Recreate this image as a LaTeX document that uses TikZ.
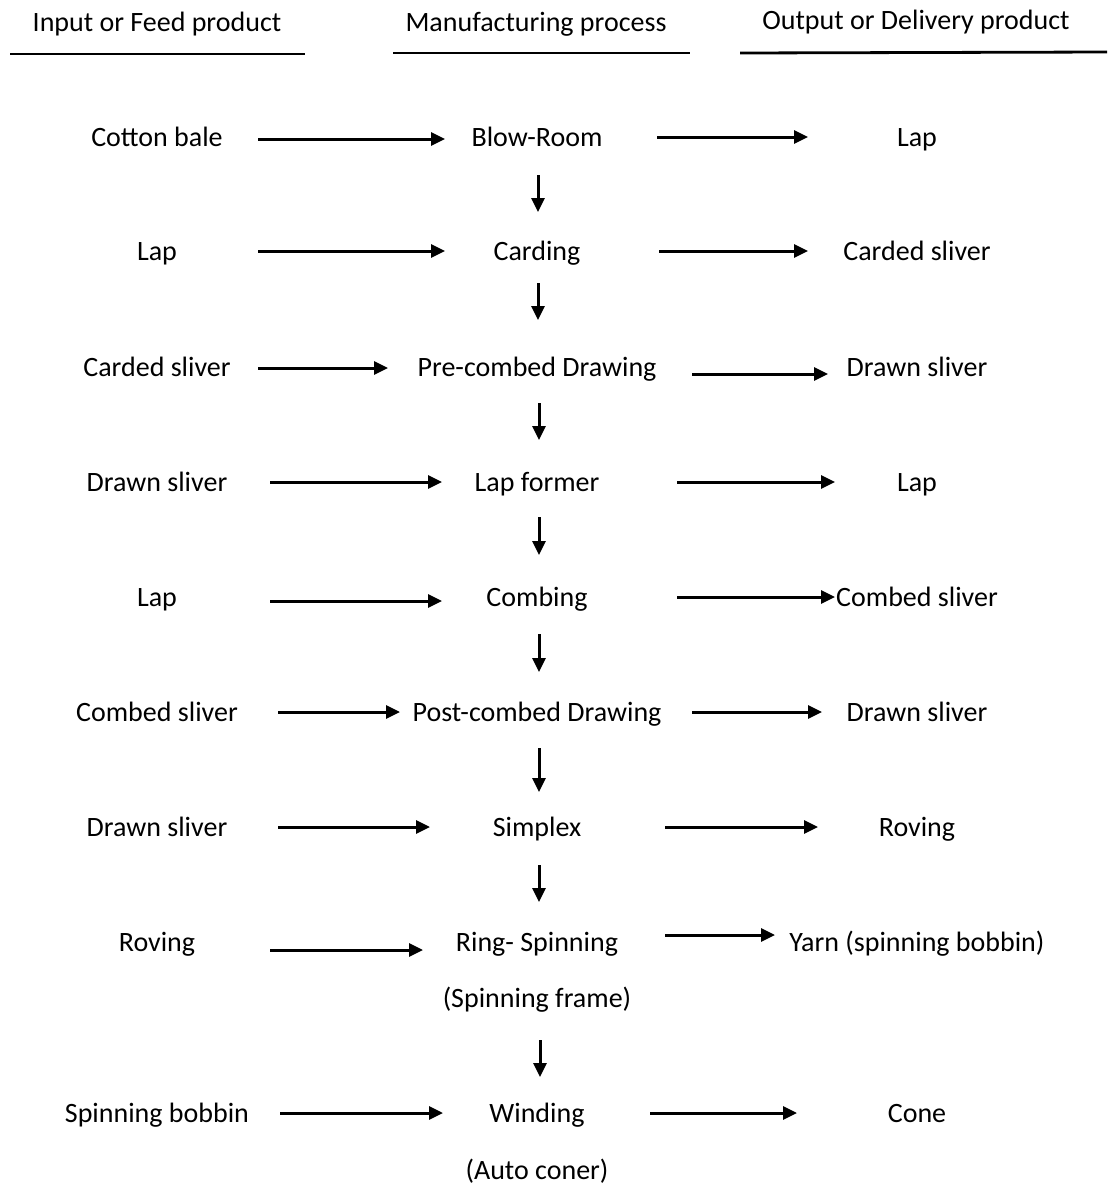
\documentclass[tikz,border=0pt]{standalone}
\usepackage{fontspec}
\setmainfont{Carlito}
\usetikzlibrary{arrows.meta}
\begin{document}
\begin{tikzpicture}[x=1pt,y=-1pt,
  lbl/.style={font=\fontsize{28}{32}\selectfont, inner sep=0pt, text height=18pt, text depth=0pt},
  arr/.style={line width=3pt, -{Triangle[length=14pt,width=13pt]}},
  rule/.style={line width=2.8pt}]
\useasboundingbox (0,0) rectangle (1115,1187);
% headers
\node[lbl] (h1) at (157,22) {Input or Feed product};
\node[lbl] (h2) at (536,22) {Manufacturing process};
\node[lbl] (h3) at (916,20) {Output or Delivery product};
\coordinate (u1a) at (10,54); \coordinate (u1b) at (305,54);
\coordinate (u2a) at (393,53); \coordinate (u2b) at (690,53);
\coordinate (u3a) at (740,53); \coordinate (u3b) at (1107,52);
\draw[rule] (u1a) -- (u1b);
\draw[rule] (u2a) -- (u2b);
\draw[rule] (u3a) -- (u3b);
% inputs
\node[lbl] (i1) at (157,137) {Cotton bale};
\node[lbl] (i2) at (157,251) {Lap};
\node[lbl] (i3) at (157,367) {Carded sliver};
\node[lbl] (i4) at (157,482) {Drawn sliver};
\node[lbl] (i5) at (157,597) {Lap};
\node[lbl] (i6) at (157,712) {Combed sliver};
\node[lbl] (i7) at (157,827) {Drawn sliver};
\node[lbl] (i8) at (157,942) {Roving};
\node[lbl] (i9) at (157,1113) {Spinning bobbin};
% processes
\node[lbl] (p1) at (537,137) {Blow-Room};
\node[lbl] (p2) at (537,251) {Carding};
\node[lbl] (p3) at (537,367) {Pre-combed Drawing};
\node[lbl] (p4) at (537,482) {Lap former};
\node[lbl] (p5) at (537,597) {Combing};
\node[lbl] (p6) at (537,712) {Post-combed Drawing};
\node[lbl] (p7) at (537,827) {Simplex};
\node[lbl] (p8) at (537,942) {Ring- Spinning};
\node[lbl] (p8b) at (537,998) {(Spinning frame)};
\node[lbl] (p9) at (537,1113) {Winding};
\node[lbl] (p9b) at (537,1170) {(Auto coner)};
% outputs
\node[lbl] (o1) at (917,137) {Lap};
\node[lbl] (o2) at (917,251) {Carded sliver};
\node[lbl] (o3) at (917,367) {Drawn sliver};
\node[lbl] (o4) at (917,482) {Lap};
\node[lbl] (o5) at (917,597) {Combed sliver};
\node[lbl] (o6) at (917,712) {Drawn sliver};
\node[lbl] (o7) at (917,827) {Roving};
\node[lbl] (o8) at (917,942) {Yarn (spinning bobbin)};
\node[lbl] (o9) at (917,1113) {Cone};
% input arrows
\draw[arr, shorten <=101pt, shorten >=92pt] ([yshift=-2pt]i1.center) -- ([yshift=-2pt]p1.center);
\draw[arr, shorten <=101pt, shorten >=92pt] (i2.center) -- (p2.center);
\draw[arr, shorten <=101pt, shorten >=149pt] ([yshift=-1pt]i3.center) -- ([yshift=-1pt]p3.center);
\draw[arr, shorten <=113pt, shorten >=95pt] (i4.center) -- (p4.center);
\draw[arr, shorten <=113pt, shorten >=95pt] ([yshift=-4pt]i5.center) -- ([yshift=-4pt]p5.center);
\draw[arr, shorten <=121pt, shorten >=137pt] (i6.center) -- (p6.center);
\draw[arr, shorten <=121pt, shorten >=107pt] (i7.center) -- (p7.center);
\draw[arr, shorten <=113pt, shorten >=114pt] ([yshift=-8pt]i8.center) -- ([yshift=-8pt]p8.center);
\draw[arr, shorten <=123pt, shorten >=94pt] (i9.center) -- (p9.center);
% output arrows
\draw[arr, shorten <=120pt, shorten >=109pt] (p1.center) -- (o1.center);
\draw[arr, shorten <=122pt, shorten >=109pt] (p2.center) -- (o2.center);
\draw[arr, shorten <=155pt, shorten >=89pt] ([yshift=-7pt]p3.center) -- ([yshift=-7pt]o3.center);
\draw[arr, shorten <=140pt, shorten >=82pt] (p4.center) -- (o4.center);
\draw[arr, shorten <=140pt, shorten >=82pt] (p5.center) -- (o5.center);
\draw[arr, shorten <=155pt, shorten >=95pt] (p6.center) -- (o6.center);
\draw[arr, shorten <=128pt, shorten >=99pt] (p7.center) -- (o7.center);
\draw[arr, shorten <=128pt, shorten >=142pt] ([yshift=7pt]p8.center) -- ([yshift=7pt]o8.center);
\draw[arr, shorten <=113pt, shorten >=120pt] (p9.center) -- (o9.center);
% down arrows
\draw[arr, shorten <=38pt, shorten >=39pt] ([xshift=1pt]p1.center) -- ([xshift=1pt]p2.center);
\draw[arr, shorten <=32pt, shorten >=47pt] ([xshift=1pt]p2.center) -- ([xshift=1pt]p3.center);
\draw[arr, shorten <=36pt, shorten >=42pt] ([xshift=2pt]p3.center) -- ([xshift=2pt]p4.center);
\draw[arr, shorten <=35pt, shorten >=42pt] ([xshift=2pt]p4.center) -- ([xshift=2pt]p5.center);
\draw[arr, shorten <=37pt, shorten >=40pt] ([xshift=2pt]p5.center) -- ([xshift=2pt]p6.center);
\draw[arr, shorten <=36pt, shorten >=35pt] ([xshift=2pt]p6.center) -- ([xshift=2pt]p7.center);
\draw[arr, shorten <=38pt, shorten >=40pt] ([xshift=2pt]p7.center) -- ([xshift=2pt]p8.center);
\draw[arr, shorten <=42pt, shorten >=36pt] ([xshift=3pt]p8b.center) -- ([xshift=3pt]p9.center);
\end{tikzpicture}
\end{document}
